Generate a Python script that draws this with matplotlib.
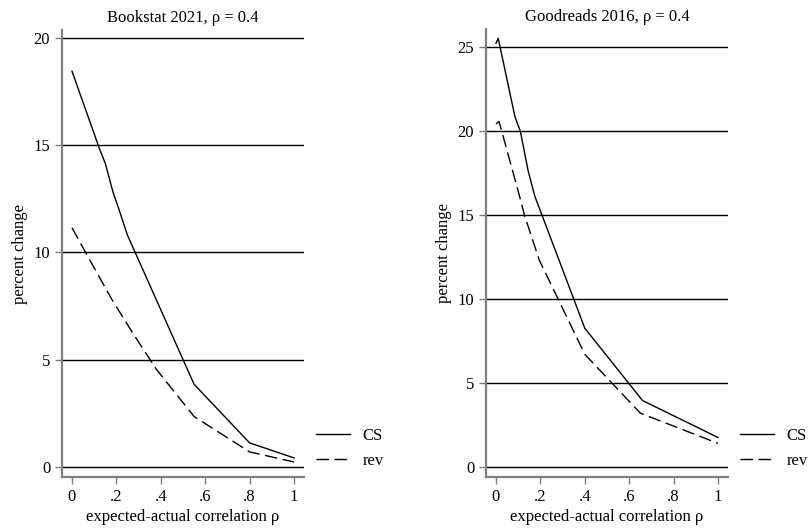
import matplotlib
matplotlib.use("Agg")
import matplotlib.pyplot as plt

plt.rcParams['font.family'] = ['Liberation Serif', 'DejaVu Serif']

# Bookstat 2021
bk_x_cs = [0, 0.125, 0.15, 0.185, 0.21, 0.25, 0.55, 0.8, 1.0]
bk_cs = [18.45, 14.8, 14.15, 12.8, 12.05, 10.8, 3.85, 1.12, 0.42]
bk_x_rev = [0, 0.08, 0.18, 0.27, 0.38, 0.55, 0.8, 1.0]
bk_rev = [11.15, 9.65, 7.8, 6.3, 4.55, 2.35, 0.7, 0.23]

# Goodreads 2016
gr_x_cs = [0, 0.01, 0.085, 0.11, 0.145, 0.175, 0.4, 0.66, 1.0]
gr_cs = [25.2, 25.5, 20.85, 19.95, 17.6, 16.1, 8.25, 3.95, 1.75]
gr_x_rev = [0, 0.014, 0.1, 0.13, 0.195, 0.4, 0.65, 1.0]
gr_rev = [20.4, 20.55, 16.4, 14.9, 12.3, 6.7, 3.2, 1.4]

xticks = [0, 0.2, 0.4, 0.6, 0.8, 1.0]
xticklabels = ["0", ".2", ".4", ".6", ".8", "1"]

fig = plt.figure(figsize=(8.08, 5.31), dpi=100)
axL = fig.add_axes([62/808, 1-477/531, 242/808, 447/531])
axR = fig.add_axes([486/808, 1-477/531, 242/808, 448/531])

FS = 12

panels = [
    (axL, "Bookstat 2021, \u03c1 = 0.4", bk_x_cs, bk_cs, bk_x_rev, bk_rev,
     [0, 5, 10, 15, 20], (-0.47, 20.37), 316/808),
    (axR, "Goodreads 2016, \u03c1 = 0.4", gr_x_cs, gr_cs, gr_x_rev, gr_rev,
     [0, 5, 10, 15, 20, 25], (-0.6, 26.05), 740/808),
]

for ax, title, xc, yc, xr, yr, yt, ylim, legx in panels:
    for v in yt:
        ax.axhline(v, color='black', lw=1.0, zorder=1)
    ax.plot(xc, yc, color='black', lw=1.0, label='CS', zorder=3)
    ax.plot(xr, yr, color='black', lw=1.0, dashes=(9, 4), label='rev', zorder=3)
    ax.set_xlim(-0.045, 1.045)
    ax.set_ylim(*ylim)
    ax.set_yticks(yt)
    ax.set_yticklabels([str(v) for v in yt])
    ax.set_xticks(xticks)
    ax.set_xticklabels(xticklabels)
    for s in ['top', 'right']:
        ax.spines[s].set_visible(False)
    for s in ['left', 'bottom']:
        ax.spines[s].set_color('#7f7f7f')
        ax.spines[s].set_linewidth(1.6)
    ax.tick_params(axis='both', colors='#7f7f7f', labelcolor='black',
                   labelsize=FS, length=5, width=1.0, direction='out')
    ax.set_title(title, fontsize=FS, pad=6)
    ax.set_xlabel("expected-actual correlation \u03c1", fontsize=FS, labelpad=3)
    ax.set_ylabel("percent change", fontsize=FS, labelpad=4)
    ax.legend(loc='upper left', bbox_to_anchor=(legx, 1 - 428/531),
              bbox_transform=fig.transFigure, frameon=False, fontsize=FS,
              handlelength=2.05, handletextpad=0.75, labelspacing=0.55,
              borderpad=0, borderaxespad=0)

fig.savefig("out.png", dpi=100)
